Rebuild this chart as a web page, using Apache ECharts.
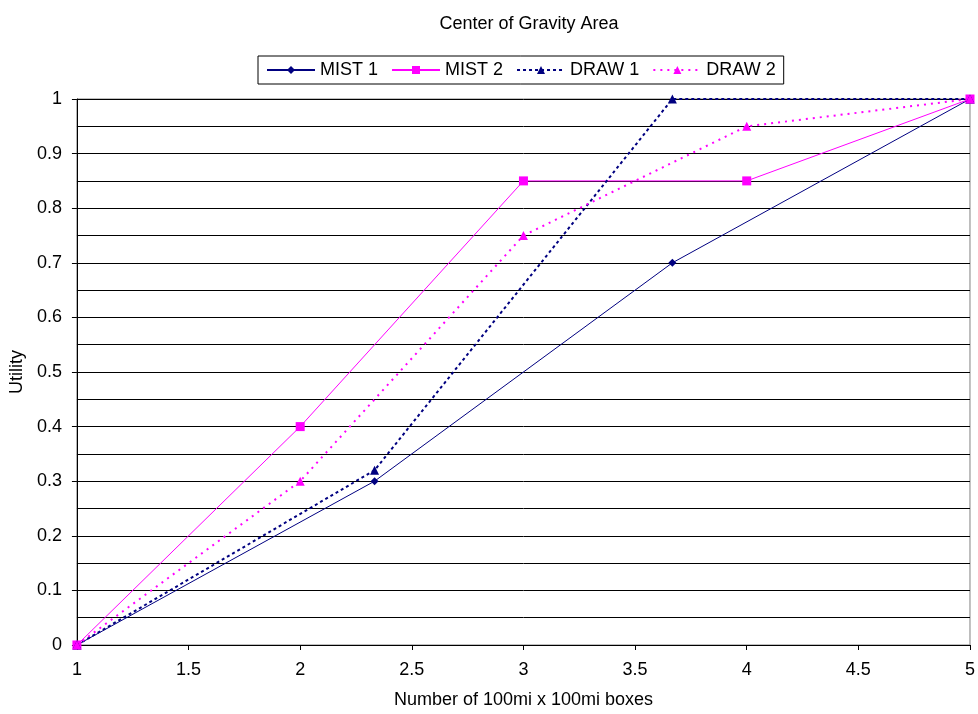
<!DOCTYPE html>
<html><head><meta charset="utf-8">
<script src="https://cdn.jsdelivr.net/npm/echarts@6/dist/echarts.min.js"></script>
<style>html,body{margin:0;padding:0;background:#fff}#c{width:978px;height:714px}</style>
</head><body><div id="c"></div>
<script>
const seriesNames = ["MIST 1", "MIST 2", "DRAW 1", "DRAW 2"];
const mist1 = [[1, 0], [2.333, 0.3], [3.667, 0.7], [5, 1]];
const mist2 = [[1, 0], [2, 0.4], [3, 0.85], [4, 0.85], [5, 1]];
const draw1 = [[1, 0], [2.333, 0.32], [3.667, 1], [5, 1]];
const draw2 = [[1, 0], [2, 0.3], [3, 0.75], [4, 0.95], [5, 1]];

const font = "Liberation Sans, Arial, sans-serif";
const navy = "#000080", mag = "#FF00FF";
const chart = echarts.init(document.getElementById('c'));
chart.setOption({
  animation: false,
  title: { text: "Center of Gravity Area", left: 524, textAlign: 'center', top: 10,
    textStyle: { fontFamily: font, fontSize: 18, fontWeight: 'normal', color: '#000' } },
  legend: {
    data: seriesNames, top: 56, left: 258,
    itemWidth: 48, itemHeight: 10, itemGap: 13,
    padding: [5, 8], borderColor: '#000', borderWidth: 1,
    textStyle: { fontFamily: font, fontSize: 18, color: '#000' }
  },
  grid: { left: 75, right: 5, top: 99, bottom: 69, containLabel: false,
    show: true, borderColor: '#808080', borderWidth: 1 },
  xAxis: {
    type: 'value', min: 1, max: 5, interval: 0.5,
    name: "Number of 100mi x 100mi boxes", nameLocation: 'middle', nameGap: 46,
    nameTextStyle: { fontFamily: font, fontSize: 18, color: '#000' },
    axisLine: { lineStyle: { color: '#000' } },
    axisTick: { show: true, length: 5, lineStyle: { color: '#000' } },
    axisLabel: { fontFamily: font, fontSize: 18, color: '#000', margin: 16 },
    splitLine: { show: false }
  },
  yAxis: {
    type: 'value', min: 0, max: 1, interval: 0.1,
    name: "Utility", nameLocation: 'middle', nameGap: 46, nameRotate: 90,
    nameTextStyle: { fontFamily: font, fontSize: 18, color: '#000' },
    axisLine: { show: true, lineStyle: { color: '#000' } },
    axisTick: { show: true, length: 5, lineStyle: { color: '#000' } },
    axisLabel: { fontFamily: font, fontSize: 18, color: '#000', margin: 15 },
    splitLine: { show: true, lineStyle: { color: '#000', width: 1 } },
    minorTick: { show: false, splitNumber: 2 },
    minorSplitLine: { show: true, lineStyle: { color: '#000', width: 1 } }
  },
  series: [
    { name: seriesNames[0], type: 'line', data: mist1, symbol: 'diamond', symbolSize: 8,
      lineStyle: { color: navy, width: 1 }, itemStyle: { color: navy } },
    { name: seriesNames[1], type: 'line', data: mist2, symbol: 'rect', symbolSize: 9,
      lineStyle: { color: mag, width: 1 }, itemStyle: { color: mag } },
    { name: seriesNames[2], type: 'line', data: draw1, symbol: 'triangle', symbolSize: 9,
      lineStyle: { color: navy, width: 2, type: [3, 3] }, itemStyle: { color: navy } },
    { name: seriesNames[3], type: 'line', data: draw2, symbol: 'triangle', symbolSize: 9,
      lineStyle: { color: mag, width: 2, type: [2, 5] }, itemStyle: { color: mag } }
  ]
});
</script></body></html>
